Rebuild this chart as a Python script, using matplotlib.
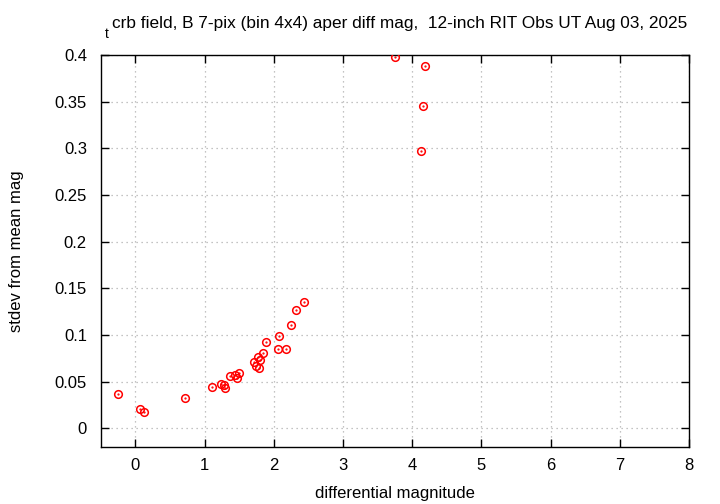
import matplotlib
matplotlib.use("Agg")
import matplotlib.pyplot as plt

plt.rcParams['font.family'] = ['Liberation Sans', 'DejaVu Sans']

# differential magnitude vs stdev from mean mag
diff_mag = [-0.25, 0.07, 0.12, 0.71, 1.10, 1.23, 1.28, 1.29, 1.36, 1.44, 1.47, 1.50,
            1.72, 1.74, 1.78, 1.77, 1.80, 1.85, 1.89, 2.06, 2.18, 2.07, 2.25, 2.32,
            2.44, 3.75, 4.19, 4.15, 4.12]
stdev = [0.0365, 0.0207, 0.0175, 0.0325, 0.0447, 0.0475, 0.0468, 0.0432, 0.0565, 0.0576,
         0.0536, 0.0597, 0.0711, 0.0668, 0.0650, 0.0760, 0.0737, 0.0808, 0.0926, 0.0847,
         0.0847, 0.0987, 0.1110, 0.1265, 0.1358, 0.3980, 0.3880, 0.3450, 0.2970]

x_ticks = [0, 1, 2, 3, 4, 5, 6, 7, 8]
y_ticks = [0, 0.05, 0.1, 0.15, 0.2, 0.25, 0.3, 0.35, 0.4]
y_labels = ['0', '0.05', '0.1', '0.15', '0.2', '0.25', '0.3', '0.35', '0.4']

fig = plt.figure(figsize=(7.2, 5.04), dpi=100)
ax = fig.add_axes([0.140, 0.113, 0.817, 0.778])

ax.plot(diff_mag, stdev, 'o', mfc='none', mec='red', ms=5.5, mew=1.1, zorder=3)
ax.plot(diff_mag, stdev, '.', color='red', ms=1.2, zorder=3)

ax.set_xlim(-0.5, 8)
ax.set_ylim(-0.02, 0.4)
ax.set_xticks(x_ticks)
ax.set_yticks(y_ticks)
ax.set_yticklabels(y_labels)
ax.tick_params(direction='in', top=True, right=True, length=6, width=1,
               labelsize=12, colors='black')
ax.tick_params(axis='y', pad=10)
ax.tick_params(axis='x', pad=8)
ax.grid(True, linestyle=(0, (1, 3)), color='#b0b0b0', linewidth=0.9)
for s in ax.spines.values():
    s.set_linewidth(1.0)

ax.set_xlabel('differential magnitude', fontsize=12, labelpad=9)
ax.set_ylabel('stdev from mean mag', fontsize=12, labelpad=22)

fig.text(0.145, 0.925, 't', fontsize=10, ha='left', va='baseline')
fig.text(0.155, 0.944, 'crb field, B 7-pix (bin 4x4) aper diff mag,  12-inch RIT Obs UT Aug 03, 2025',
         fontsize=12.4, ha='left', va='baseline')

fig.savefig('out.png', dpi=100)
